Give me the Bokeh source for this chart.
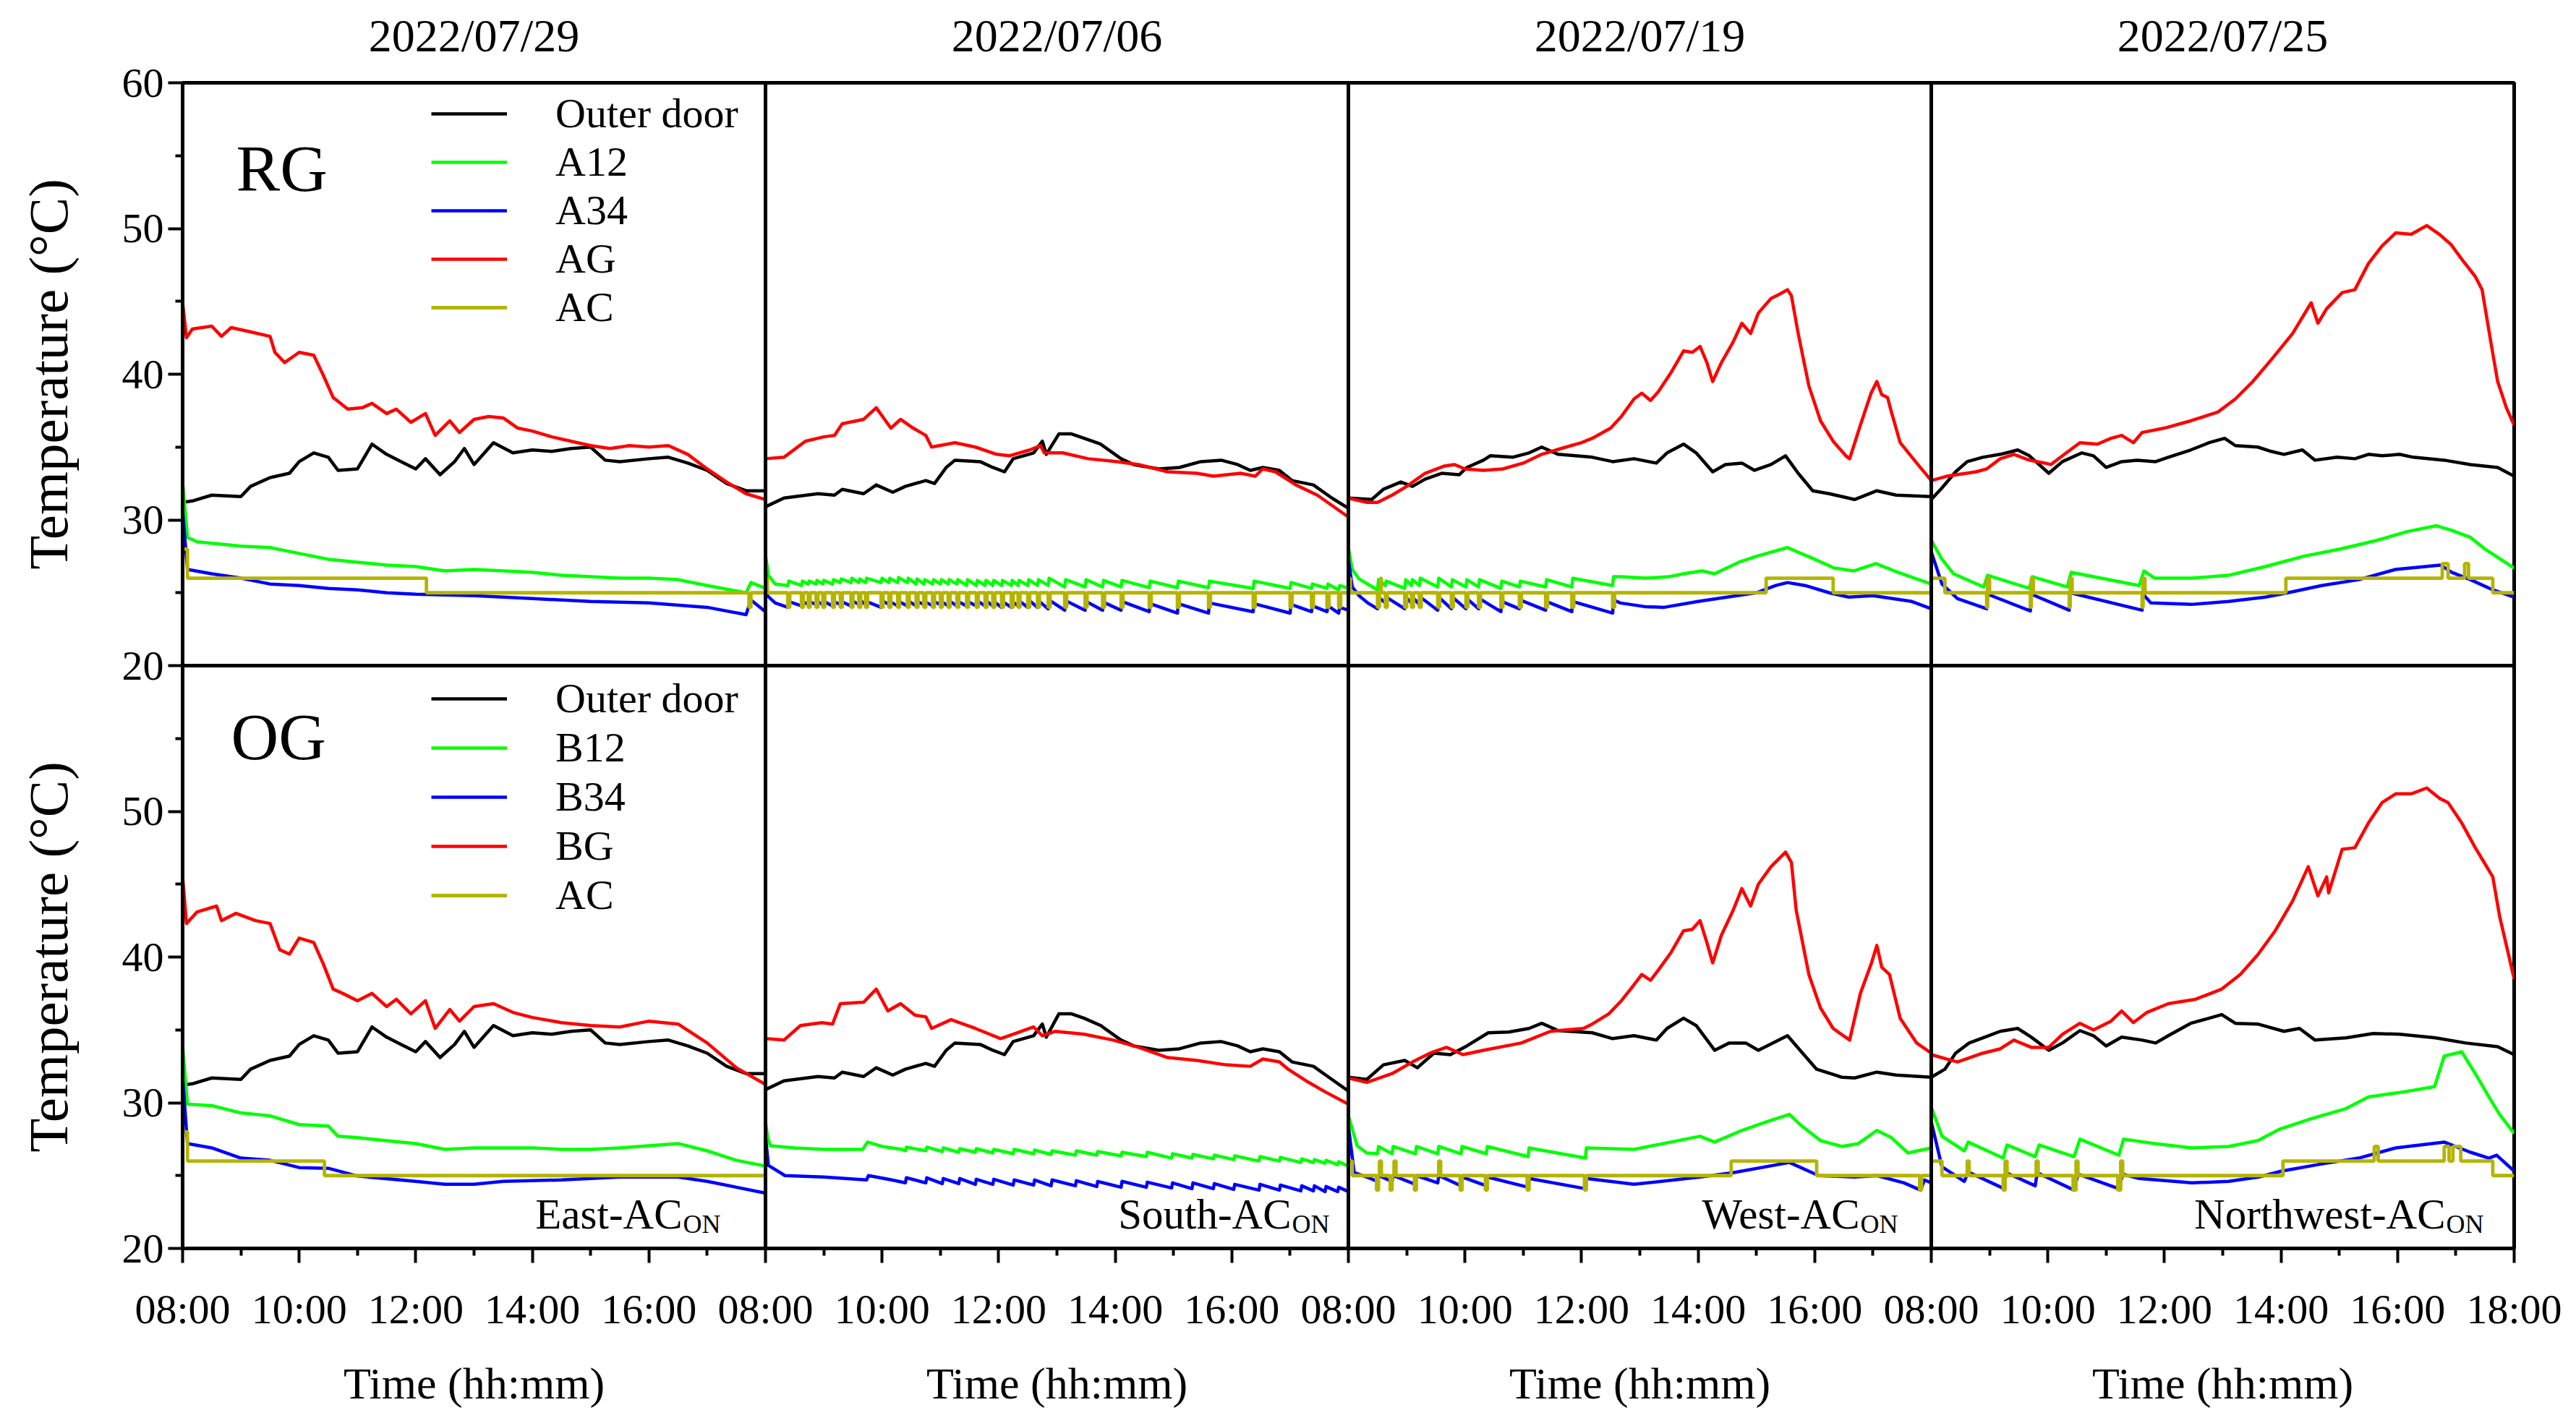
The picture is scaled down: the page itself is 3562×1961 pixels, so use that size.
import math
from bokeh.plotting import figure
from bokeh.models import Label, Legend, LegendItem, FixedTicker, Span, LinearAxis
from bokeh.embed import file_html
from bokeh.resources import INLINE

FONT = "Liberation Serif"

# ---------------- labels / categories ----------------
DATES = ["2022/07/29", "2022/07/06", "2022/07/19", "2022/07/25"]
ORIENTATION = ["East", "South", "West", "Northwest"]
ROW_NAMES = ["RG", "OG"]
LEGEND_RG = ["Outer door", "A12", "A34", "AG", "AC"]
LEGEND_OG = ["Outer door", "B12", "B34", "BG", "AC"]
HOUR_TICKS = [8, 10, 12, 14, 16, 18]
HOUR_LABELS = ["08:00", "10:00", "12:00", "14:00", "16:00", "18:00"]
TEMP_TICKS = [20, 30, 40, 50, 60]
X_TITLE = "Time (hh:mm)"
Y_TITLE = "Temperature (\u00b0C)"
AC_DIP_LEVEL = 24
AC_DIP_MINUTES = 2

# ---------------- RG row (top) ----------------
RG_0729_OUTER = [("08:00",31.2),("08:10",31.3),("08:30",31.7),("09:00",31.6),("09:10",32.3),("09:30",32.9),("09:50",33.2),("10:00",34.0),("10:15",34.6),("10:30",34.3),("10:40",33.4),("11:00",33.5),("11:15",35.2),("11:30",34.5),("11:45",34.0),("12:00",33.5),("12:10",34.2),("12:25",33.1),("12:40",34.0),("12:50",34.9),("13:00",33.8),("13:20",35.3),("13:40",34.6),("14:00",34.8),("14:20",34.7),("14:40",34.9),("15:00",35.0),("15:15",34.1),("15:30",34.0),("16:00",34.2),("16:20",34.3),("16:40",33.9),("17:00",33.4),("17:20",32.5),("17:40",32.0),("18:00",32.0)]
RG_0729_AG = [("08:00",44.9),("08:04",42.5),("08:10",43.1),("08:30",43.3),("08:40",42.6),("08:50",43.2),("09:10",42.9),("09:30",42.6),("09:35",41.5),("09:45",40.8),("10:00",41.5),("10:15",41.3),("10:25",39.9),("10:35",38.4),("10:50",37.6),("11:05",37.7),("11:15",38.0),("11:30",37.3),("11:40",37.6),("11:55",36.7),("12:10",37.3),("12:20",35.8),("12:35",36.8),("12:45",36.0),("13:00",36.9),("13:15",37.1),("13:30",37.0),("13:45",36.3),("14:00",36.1),("14:20",35.7),("14:40",35.4),("15:00",35.1),("15:20",34.9),("15:40",35.1),("16:00",35.0),("16:20",35.1),("16:40",34.5),("17:00",33.5),("17:20",32.6),("17:40",31.8),("18:00",31.4)]
RG_0729_A12 = [("08:00",32.6),("08:05",28.8),("08:15",28.5),("09:00",28.2),("09:30",28.1),("10:00",27.7),("10:30",27.3),("11:00",27.1),("11:30",26.9),("12:00",26.8),("12:30",26.5),("13:00",26.6),("13:30",26.5),("14:00",26.4),("14:30",26.2),("15:00",26.1),("15:30",26.0),("16:00",26.0),("16:30",25.9),("17:00",25.5),("17:40",25.0),("17:45",25.7),("18:00",25.3)]
RG_0729_A34 = [("08:00",30.6),("08:05",26.6),("08:30",26.3),("09:00",26.0),("09:30",25.6),("10:00",25.5),("10:30",25.3),("11:00",25.2),("11:30",25.0),("12:00",24.9),("13:00",24.8),("14:00",24.6),("15:00",24.4),("16:00",24.3),("17:00",24.0),("17:40",23.5),("17:45",24.5),("18:00",23.7)]
RG_0729_AC = [("08:00",28),("08:05",26),("12:11",25),("17:43",24),("17:45",25),("18:00",25)]
RG_0729_AC_DIPS = []

RG_0706_OUTER = [("08:00",30.9),("08:19",31.5),("08:54",31.8),("09:11",31.7),("09:19",32.1),("09:41",31.8),("09:54",32.4),("10:11",31.9),("10:24",32.3),("10:45",32.7),("10:54",32.5),("11:06",33.6),("11:15",34.1),("11:41",34.0),("11:54",33.6),("12:06",33.3),("12:15",34.2),("12:36",34.6),("12:45",35.4),("12:49",34.5),("13:02",35.9),("13:15",35.9),("13:28",35.6),("13:45",35.2),("14:06",34.2),("14:19",33.8),("14:45",33.5),("15:06",33.6),("15:28",34.0),("15:49",34.1),("16:06",33.8),("16:19",33.4),("16:32",33.6),("16:49",33.4),("17:02",32.7),("17:24",32.4),("17:43",31.5),("18:00",30.8)]
RG_0706_AG = [("08:00",34.2),("08:19",34.3),("08:41",35.4),("09:00",35.7),("09:11",35.8),("09:19",36.6),("09:41",36.9),("09:54",37.7),("10:09",36.3),("10:19",36.9),("10:32",36.3),("10:45",35.8),("10:51",35.0),("11:15",35.3),("11:36",35.0),("11:58",34.5),("12:11",34.4),("12:32",34.8),("12:43",35.1),("12:47",34.6),("13:06",34.6),("13:32",34.2),("14:02",34.0),("14:24",33.8),("14:54",33.3),("15:24",33.2),("15:41",33.0),("16:09",33.2),("16:24",33.0),("16:32",33.5),("16:45",33.3),("17:06",32.4),("17:28",31.7),("18:00",30.2)]
RG_0706_A12_START = [("08:00",27.6),("08:03",26.2),("08:10",25.6)]
RG_0706_A12_TEETH = [("08:23",25.5,25.8),("08:37",25.5,25.8),("08:44",25.6,25.8),("08:52",25.6,25.85),("08:59",25.6,25.85),("09:09",25.6,25.9),("09:17",25.7,25.95),("09:28",25.7,26.0),("09:36",25.7,25.95),("09:43",25.7,26.0),("09:59",25.7,26.0),("10:07",25.7,26.0),("10:16",25.7,26.05),("10:26",25.7,26.0),("10:35",25.6,25.95),("10:43",25.6,25.9),("10:52",25.6,25.9),("11:00",25.6,25.9),("11:08",25.6,25.9),("11:17",25.6,25.9),("11:27",25.5,25.9),("11:37",25.5,25.85),("11:46",25.5,25.85),("11:54",25.5,25.85),("12:03",25.5,25.85),("12:13",25.5,25.85),("12:20",25.5,25.85),("12:30",25.5,25.9),("12:40",25.5,25.9),("12:51",25.5,26.0),("13:08",25.4,25.9),("13:29",25.4,25.9),("13:47",25.4,25.85),("14:06",25.4,25.85),("14:35",25.35,25.8),("15:04",25.35,25.8),("15:36",25.35,25.8),("16:22",25.3,25.8),("17:00",25.3,25.7),("17:22",25.3,25.6),("17:38",25.3,25.6),("17:50",25.2,25.5)]
RG_0706_A12_END = [("18:00",25.3)]
RG_0706_A34_START = [("08:00",26.6),("08:02",24.8),("08:10",24.3)]
RG_0706_A34_TEETH = [("08:23",24.0,24.4),("08:37",24.1,24.4),("08:44",24.2,24.4),("08:52",24.2,24.4),("08:59",24.2,24.4),("09:09",24.1,24.4),("09:17",24.2,24.4),("09:28",24.1,24.45),("09:36",24.2,24.5),("09:43",24.2,24.4),("09:59",24.0,24.45),("10:07",24.2,24.4),("10:16",24.1,24.4),("10:26",24.1,24.45),("10:35",24.1,24.4),("10:43",24.2,24.4),("10:52",24.1,24.4),("11:00",24.2,24.4),("11:08",24.1,24.45),("11:17",24.1,24.4),("11:27",24.1,24.4),("11:37",24.1,24.45),("11:46",24.1,24.45),("11:54",24.1,24.4),("12:03",24.0,24.4),("12:13",24.0,24.4),("12:20",24.1,24.45),("12:30",24.0,24.5),("12:40",24.0,24.45),("12:51",23.9,24.5),("13:08",23.8,24.45),("13:29",23.8,24.4),("13:47",23.8,24.35),("14:06",23.8,24.4),("14:35",23.7,24.25),("15:04",23.6,24.25),("15:36",23.6,24.3),("16:22",23.7,24.25),("17:00",23.6,24.2),("17:22",23.7,24.1),("17:38",23.7,24.1),("17:50",23.6,24.0)]
RG_0706_A34_END = [("18:00",23.8)]
RG_0706_AC = [("08:00",26),("08:02",25),("18:00",25)]
RG_0706_AC_DIPS = ["08:23","08:37","08:44","08:52","08:59","09:09","09:17","09:28","09:36","09:43","09:59","10:07","10:16","10:26","10:35","10:43","10:52","11:00","11:08","11:17","11:27","11:37","11:46","11:54","12:03","12:13","12:20","12:30","12:40","12:51","13:08","13:29","13:47","14:06","14:35","15:04","15:36","16:22","17:00","17:22","17:38","17:50"]

RG_0719_OUTER = [("08:00",31.5),("08:24",31.4),("08:36",32.1),("08:54",32.6),("09:06",32.3),("09:19",32.8),("09:36",33.2),("09:54",33.1),("10:02",33.6),("10:19",34.1),("10:26",34.4),("10:49",34.3),("11:06",34.6),("11:19",35.0),("11:36",34.5),("11:54",34.4),("12:11",34.3),("12:32",34.0),("12:54",34.2),("13:17",33.9),("13:28",34.6),("13:45",35.2),("13:58",34.6),("14:15",33.3),("14:28",33.8),("14:45",33.9),("14:58",33.4),("15:15",33.8),("15:30",34.4),("15:43",33.2),("15:58",32.0),("16:15",31.8),("16:41",31.4),("17:04",32.0),("17:24",31.7),("18:00",31.6)]
RG_0719_AG = [("08:00",31.5),("08:19",31.2),("08:30",31.2),("08:45",31.7),("09:00",32.3),("09:19",33.2),("09:39",33.7),("09:49",33.8),("10:00",33.5),("10:19",33.4),("10:39",33.5),("11:00",33.9),("11:19",34.5),("11:39",34.9),("12:00",35.3),("12:11",35.6),("12:30",36.3),("12:41",37.1),("12:54",38.3),("13:02",38.7),("13:11",38.2),("13:19",38.8),("13:32",40.1),("13:45",41.6),("13:54",41.5),("14:02",41.9),("14:09",40.8),("14:15",39.5),("14:24",40.8),("14:36",42.2),("14:45",43.5),("14:54",42.8),("15:02",44.2),("15:15",45.2),("15:24",45.5),("15:32",45.8),("15:36",45.4),("15:43",42.8),("15:54",39.2),("16:06",36.8),("16:19",35.4),("16:32",34.4),("16:36",34.2),("16:47",36.5),("16:58",38.7),("17:04",39.5),("17:09",38.6),("17:15",38.4),("17:19",37.4),("17:28",35.3),("17:45",33.9),("18:00",32.7)]
RG_0719_A12_START = [("08:00",28.1),("08:04",26.6),("08:11",25.95)]
RG_0719_A12_TEETH = [("08:30",25.2,25.9),("08:38",25.5,25.8),("08:58",25.3,25.9),("09:05",25.5,25.9),("09:13",25.5,26.0),("09:32",25.4,26.0),("09:46",25.4,25.9),("10:01",25.4,25.9),("10:14",25.4,25.9),("10:37",25.3,25.8),("10:56",25.4,25.8),("11:23",25.4,25.9),("11:50",25.4,26.0),("12:32",25.5,26.1)]
RG_0719_A12_END = [("12:40",26.1),("13:06",26.0),("13:30",26.1),("13:45",26.3),("14:04",26.5),("14:17",26.3),("14:42",27.1),("15:00",27.5),("15:32",28.1),("16:00",27.3),("16:20",26.7),("16:40",26.5),("17:03",27.0),("17:22",26.5),("17:45",25.95),("18:00",25.6)]
RG_0719_A34_START = [("08:00",27.3),("08:04",25.4),("08:11",24.8),("08:20",24.3)]
RG_0719_A34_TEETH = [("08:30",23.9,24.7),("08:38",24.3,24.7),("08:58",23.9,24.7),("09:05",24.3,24.7),("09:13",24.2,24.7),("09:32",23.8,24.7),("09:46",23.9,24.7),("10:01",23.9,24.6),("10:14",23.9,24.6),("10:37",23.7,24.4),("10:56",23.9,24.5),("11:23",23.8,24.4),("11:50",23.7,24.4),("12:32",23.6,24.5)]
RG_0719_A34_END = [("12:40",24.3),("13:05",24.05),("13:25",24.0),("14:00",24.4),("14:20",24.6),("14:40",24.8),("15:00",25.0),("15:20",25.5),("15:32",25.7),("15:50",25.5),("16:15",25.0),("16:35",24.7),("17:00",24.8),("17:20",24.6),("17:40",24.4),("18:00",23.9)]
RG_0719_AC = [("08:00",26),("08:02",25),("08:33",26),("08:34",25),("15:10",26),("16:19",25),("18:00",25)]
RG_0719_AC_DIPS = ["08:30","08:38","08:58","09:05","09:13","09:32","09:46","10:01","10:14","10:37","10:56","11:23","11:50","12:32"]

RG_0725_OUTER = [("08:00",31.4),("08:11",32.2),("08:25",33.3),("08:37",34.0),("08:53",34.3),("09:11",34.5),("09:29",34.8),("09:41",34.4),("10:01",33.2),("10:15",34.0),("10:35",34.6),("10:47",34.4),("11:00",33.6),("11:16",34.0),("11:32",34.1),("11:51",34.0),("12:04",34.3),("12:27",34.8),("12:46",35.3),("13:02",35.6),("13:13",35.1),("13:36",35.0),("13:50",34.7),("14:03",34.5),("14:22",34.8),("14:35",34.1),("14:58",34.3),("15:16",34.2),("15:30",34.5),("15:44",34.4),("16:02",34.5),("16:16",34.3),("16:48",34.1),("17:15",33.8),("17:43",33.6),("18:00",33.0)]
RG_0725_AG = [("08:00",32.7),("08:16",33.0),("08:46",33.3),("08:57",33.5),("09:11",34.2),("09:25",34.5),("09:41",34.1),("09:57",33.9),("10:03",33.8),("10:19",34.6),("10:33",35.3),("10:51",35.2),("11:05",35.6),("11:16",35.8),("11:28",35.3),("11:37",36.0),("12:00",36.3),("12:27",36.8),("12:55",37.4),("13:13",38.3),("13:31",39.5),("13:50",41.0),("14:12",42.8),("14:31",44.9),("14:38",43.5),("14:47",44.5),("15:03",45.6),("15:16",45.8),("15:30",47.6),("15:44",48.8),("15:58",49.7),("16:14",49.6),("16:30",50.2),("16:43",49.6),("16:55",48.9),("17:06",47.9),("17:20",46.7),("17:27",45.8),("17:36",42.2),("17:43",39.5),("17:52",37.7),("18:00",36.5)]
RG_0725_A12 = [("08:00",28.6),("08:11",27.3),("08:23",26.3),("08:54",25.4),("08:58",26.2),("09:41",25.3),("09:44",26.1),("10:20",25.4),("10:24",26.4),("11:34",25.5),("11:39",26.5),("11:50",26.0),("12:28",26.0),("13:06",26.2),("13:44",26.8),("14:23",27.5),("15:01",28.0),("15:39",28.6),("16:10",29.2),("16:40",29.6),("16:55",29.3),("17:15",28.8),("17:30",28.0),("18:00",26.7)]
RG_0725_A34 = [("08:00",27.8),("08:11",25.6),("08:27",24.6),("08:57",23.9),("08:58",24.9),("09:42",23.75),("09:43",24.9),("10:22",23.8),("10:23",25.0),("11:37",23.8),("11:38",24.9),("11:46",24.3),("12:28",24.2),("13:06",24.4),("13:44",24.7),("14:07",25.0),("14:42",25.5),("15:20",25.9),("15:58",26.6),("16:44",26.9),("16:56",26.4),("17:15",25.9),("17:38",25.2),("18:00",24.7)]
RG_0725_AC = [("08:00",26),("08:14",25),("08:57",24),("08:58",26),("09:00",25),("09:42",24),("09:43",26),("09:45",25),("10:22",24),("10:23",26),("10:25",25),("11:37",24),("11:38",26),("11:40",25),("14:05",26),("16:46",27),("16:52",26),("17:09",27),("17:13",26),("17:38",25),("18:00",25)]
RG_0725_AC_DIPS = []

# ---------------- OG row (bottom) ----------------
OG_0729_OUTER = [("08:00",31.2),("08:10",31.3),("08:30",31.7),("09:00",31.6),("09:10",32.3),("09:30",32.9),("09:50",33.2),("10:00",34.0),("10:15",34.6),("10:30",34.3),("10:40",33.4),("11:00",33.5),("11:15",35.2),("11:30",34.5),("11:45",34.0),("12:00",33.5),("12:10",34.2),("12:25",33.1),("12:40",34.0),("12:50",34.9),("13:00",33.8),("13:20",35.3),("13:40",34.6),("14:00",34.8),("14:20",34.7),("14:40",34.9),("15:00",35.0),("15:15",34.1),("15:30",34.0),("16:00",34.2),("16:20",34.3),("16:40",33.9),("17:00",33.4),("17:20",32.5),("17:40",32.0),("18:00",32.0)]
OG_0729_BG = [("08:00",45.5),("08:04",42.3),("08:15",43.1),("08:35",43.5),("08:40",42.5),("08:55",43.0),("09:15",42.5),("09:30",42.3),("09:40",40.5),("09:50",40.2),("10:00",41.3),("10:15",41.0),("10:25",39.5),("10:35",37.8),("10:45",37.5),("11:00",37.0),("11:15",37.5),("11:30",36.6),("11:40",37.1),("11:55",36.1),("12:10",37.0),("12:20",35.1),("12:35",36.4),("12:45",35.6),("13:00",36.6),("13:20",36.8),("13:40",36.2),("14:00",35.85),("14:30",35.5),("15:00",35.3),("15:30",35.2),("16:00",35.6),("16:30",35.4),("17:00",34.1),("17:30",32.4),("18:00",31.25)]
OG_0729_B12 = [("08:00",33.9),("08:05",29.9),("08:30",29.8),("09:00",29.3),("09:30",29.1),("10:00",28.5),("10:30",28.4),("10:40",27.7),("11:00",27.6),("11:30",27.4),("12:00",27.2),("12:30",26.8),("13:00",26.9),("14:00",26.9),("14:30",26.8),("15:00",26.8),("15:30",26.9),("16:00",27.05),("16:30",27.2),("17:00",26.7),("17:30",26.05),("18:00",25.65)]
OG_0729_B34 = [("08:00",31.75),("08:05",27.2),("08:30",26.9),("09:00",26.2),("09:30",26.05),("10:00",25.55),("10:30",25.5),("11:00",24.97),("12:00",24.6),("12:30",24.4),("13:00",24.4),("13:30",24.6),("14:30",24.7),("15:30",24.9),("16:30",24.9),("17:00",24.6),("17:30",24.2),("18:00",23.8)]
OG_0729_AC = [("08:00",28),("08:05",26),("10:26",25),("18:00",25)]
OG_0729_AC_DIPS = []

OG_0706_OUTER = [("08:00",30.9),("08:19",31.5),("08:54",31.8),("09:11",31.7),("09:19",32.1),("09:41",31.8),("09:54",32.4),("10:11",31.9),("10:24",32.3),("10:45",32.7),("10:54",32.5),("11:06",33.6),("11:15",34.1),("11:41",34.0),("11:54",33.6),("12:06",33.3),("12:15",34.2),("12:36",34.6),("12:45",35.4),("12:49",34.5),("13:02",36.1),("13:15",36.1),("13:28",35.8),("13:45",35.3),("14:06",34.3),("14:19",33.9),("14:45",33.6),("15:06",33.7),("15:28",34.1),("15:49",34.2),("16:06",33.9),("16:19",33.5),("16:32",33.7),("16:49",33.5),("17:02",32.8),("17:24",32.5),("17:43",31.6),("18:00",30.8)]
OG_0706_BG = [("08:00",34.4),("08:19",34.3),("08:36",35.3),("08:58",35.5),("09:09",35.4),("09:17",36.8),("09:41",36.9),("09:54",37.8),("10:06",36.3),("10:19",36.8),("10:34",36.0),("10:45",35.9),("10:51",35.1),("11:11",35.7),("11:36",35.1),("12:02",34.4),("12:19",34.8),("12:36",35.2),("12:45",34.6),("12:58",34.9),("13:28",34.7),("13:58",34.3),("14:24",33.8),("14:54",33.1),("15:24",32.9),("15:54",32.6),("16:19",32.5),("16:32",33.0),("16:49",32.8),("16:58",32.3),("17:19",31.4),("17:36",30.75),("18:00",29.9)]
OG_0706_B12_START = [("08:00",28.7),("08:02",27.7),("08:05",27.05),("08:30",26.9),("09:00",26.8),("09:40",26.8),("09:45",27.3),("10:00",27.0),("10:20",26.8)]
OG_0706_B12_TEETH = [("10:24",26.7,26.95),("10:45",26.7,26.95),("11:02",26.65,26.9),("11:19",26.6,26.85),("11:36",26.6,26.85),("11:54",26.55,26.8),("12:15",26.5,26.8),("12:36",26.5,26.75),("12:54",26.45,26.7),("13:19",26.4,26.7),("13:41",26.4,26.65),("14:06",26.35,26.6),("14:32",26.3,26.6),("14:58",26.2,26.5),("15:19",26.2,26.45),("15:41",26.15,26.4),("16:02",26.1,26.35),("16:28",26.0,26.3),("16:49",26.0,26.25),("17:11",25.9,26.15),("17:24",25.9,26.1),("17:36",25.85,26.05),("17:49",25.75,25.95)]
OG_0706_B12_END = [("18:00",25.65)]
OG_0706_B34_START = [("08:00",27.7),("08:03",25.7),("08:20",25.0),("09:00",24.9),("09:44",24.7),("09:46",25.0),("10:10",24.7)]
OG_0706_B34_TEETH = [("10:24",24.5,24.85),("10:45",24.5,24.85),("11:02",24.45,24.8),("11:19",24.45,24.8),("11:36",24.4,24.75),("11:54",24.4,24.75),("12:15",24.35,24.7),("12:36",24.35,24.7),("12:54",24.3,24.7),("13:19",24.3,24.65),("13:41",24.25,24.6),("14:06",24.2,24.6),("14:32",24.2,24.55),("14:58",24.15,24.5),("15:19",24.1,24.5),("15:41",24.1,24.45),("16:02",24.05,24.4),("16:28",24.0,24.4),("16:49",24.0,24.35),("17:11",23.95,24.3),("17:24",23.95,24.3),("17:36",23.9,24.25),("17:49",23.9,24.2)]
OG_0706_B34_END = [("18:00",23.9)]
OG_0706_AC = []
OG_0706_AC_DIPS = []

OG_0719_OUTER = [("08:00",31.75),("08:19",31.6),("08:36",32.6),("08:58",32.9),("09:11",32.4),("09:28",33.4),("09:45",33.3),("10:02",33.9),("10:24",34.8),("10:45",34.85),("11:06",35.1),("11:19",35.45),("11:36",34.95),("12:11",34.8),("12:32",34.4),("12:54",34.6),("13:17",34.3),("13:28",35.1),("13:45",35.8),("13:58",35.3),("14:17",33.6),("14:32",34.1),("14:49",34.1),("15:02",33.6),("15:32",34.6),("15:45",33.6),("16:02",32.3),("16:28",31.75),("16:41",31.7),("17:04",32.1),("17:24",31.9),("18:00",31.75)]
OG_0719_BG = [("08:00",31.7),("08:19",31.4),("08:45",32.0),("09:06",32.8),("09:24",33.4),("09:41",33.8),("09:58",33.3),("10:19",33.6),("10:58",34.1),("11:28",34.9),("12:02",35.1),("12:11",35.4),("12:28",36.1),("12:41",37.0),("12:54",38.1),("13:02",38.8),("13:11",38.4),("13:19",39.1),("13:32",40.3),("13:45",41.8),("13:54",41.9),("14:02",42.5),("14:09",41.0),("14:15",39.6),("14:24",41.5),("14:36",43.2),("14:45",44.7),("14:54",43.5),("15:02",45.0),("15:15",46.2),("15:30",47.2),("15:36",46.5),("15:41",43.2),("15:54",38.8),("16:06",36.5),("16:19",35.1),("16:36",34.3),("16:47",37.5),("16:58",39.5),("17:04",40.8),("17:09",39.3),("17:17",38.8),("17:28",35.8),("17:45",34.1),("18:00",33.4)]
OG_0719_B12_START = [("08:00",29.1),("08:09",27.05),("08:19",26.55)]
OG_0719_B12_TEETH = [("08:30",26.5,27.0),("08:45",26.5,27.0),("09:09",26.5,27.0),("09:32",26.5,27.0),("09:56",26.5,27.0),("10:22",26.5,27.0),("11:05",26.3,26.9),("12:04",26.2,26.9)]
OG_0719_B12_END = [("12:54",26.8),("14:02",27.7),("14:17",27.3),("14:45",28.1),("15:11",28.7),("15:34",29.2),("15:45",28.5),("16:06",27.4),("16:28",27.0),("16:45",27.2),("17:04",28.1),("17:19",27.6),("17:36",26.55),("18:00",26.9)]
OG_0719_B34_START = [("08:00",28.4),("08:06",25.2),("08:19",24.9)]
OG_0719_B34_TEETH = [("08:30",24.6,25.0),("08:45",24.6,25.0),("09:09",24.4,25.0),("09:32",24.5,25.0),("09:56",24.3,24.9),("10:22",24.3,24.9),("11:05",24.2,24.8),("12:04",24.1,24.8)]
OG_0719_B34_END = [("12:54",24.4),("14:02",24.9),("14:36",25.2),("15:34",25.9),("16:04",25.0),("16:41",24.9),("17:04",25.0),("17:32",24.5),("17:49",24.0),("17:53",24.7),("18:00",24.5)]
OG_0719_AC = [("08:00",26),("08:04",25),("08:32",26),("08:34",25),("08:47",26),("08:49",25),("09:33",26),("09:35",25),("14:34",26),("16:02",25),("18:00",25)]
OG_0719_AC_DIPS = ["08:29","08:43","09:08","09:55","10:21","11:04","12:03","17:48"]

OG_0725_OUTER = [("08:00",31.75),("08:14",32.3),("08:25",33.4),("08:39",34.1),("08:55",34.5),("09:11",34.9),("09:29",35.1),("09:43",34.5),("10:01",33.6),("10:15",34.1),("10:33",34.95),("10:47",34.6),("11:00",33.9),("11:16",34.5),("11:37",34.3),("11:51",34.1),("12:04",34.6),("12:27",35.45),("12:46",35.8),("12:59",36.05),("13:13",35.45),("13:36",35.4),("14:03",34.9),("14:19",35.1),("14:35",34.3),("15:07",34.45),("15:35",34.75),("16:02",34.7),("16:39",34.45),("17:10",34.1),("17:43",33.85),("18:00",33.3)]
OG_0725_BG = [("08:00",33.3),("08:16",33.0),("08:27",32.8),("08:53",33.4),("09:11",33.7),("09:25",34.3),("09:43",33.8),("10:01",33.8),("10:15",34.7),("10:33",35.45),("10:47",35.0),("11:05",35.6),("11:16",36.3),("11:28",35.5),("11:42",36.2),("12:04",36.8),("12:32",37.1),("12:59",37.8),("13:18",38.8),("13:36",40.15),("13:54",41.8),("14:12",43.85),("14:28",46.2),("14:38",44.2),("14:47",45.5),("14:49",44.4),("15:03",47.4),("15:16",47.5),("15:30",49.2),("15:44",50.6),("15:58",51.2),("16:14",51.2),("16:30",51.6),("16:43",50.9),("16:52",50.6),("17:06",49.2),("17:20",47.5),("17:29",46.5),("17:38",45.5),("17:45",42.8),("17:52",40.8),("18:00",38.5)]
OG_0725_B12 = [("08:00",29.7),("08:11",27.7),("08:34",26.7),("08:38",27.3),("09:14",26.2),("09:18",27.1),("09:47",26.3),("09:51",27.1),("10:27",26.3),("10:33",27.5),("11:13",26.4),("11:18",27.5),("11:50",27.2),("12:28",26.9),("13:06",27.0),("13:36",27.4),("13:59",28.2),("14:31",28.9),("15:07",29.6),("15:30",30.4),("16:07",30.75),("16:38",31.1),("16:48",33.2),("17:06",33.5),("17:20",32.0),("17:34",30.4),("17:45",29.2),("18:00",27.9)]
OG_0725_B34 = [("08:00",28.7),("08:11",25.6),("08:34",24.6),("08:38",25.25),("09:15",24.1),("09:17",25.2),("09:47",24.3),("09:49",25.2),("10:27",24.0),("10:31",25.1),("11:13",24.1),("11:17",25.1),("11:34",24.8),("12:28",24.5),("13:06",24.6),("13:37",24.9),("14:00",25.3),("14:42",25.8),("15:20",26.2),("15:58",26.9),("16:48",27.3),("17:15",26.6),("17:34",26.2),("17:42",26.4),("18:00",25.3)]
OG_0725_AC = [("08:00",26),("08:11",25),("08:37",26),("08:39",25),("09:14",24),("09:16",26),("09:18",25),("09:48",26),("09:50",25),("10:26",24),("10:29",26),("10:31",25),("11:12",24),("11:15",26),("11:17",25),("14:02",26),("15:36",27),("15:40",26),("16:48",27),("16:53",26),("16:57",27),("17:05",26),("17:38",25),("18:00",25)]
OG_0725_AC_DIPS = []


# ---------------- helpers ----------------
def hrs(s):
    h, m = s.split(":")
    return int(h) + int(m) / 60.0


def with_teeth(start, teeth, end):
    pts = [(hrs(t), v) for t, v in start]
    for t, lo, hi in teeth:
        pts.append((hrs(t), lo))
        pts.append((hrs(t) + 1 / 60.0, hi))
    pts += [(hrs(t), v) for t, v in end]
    return pts


def plain(series):
    return [(hrs(t), v) for t, v in series]


def ac_steps(steps, dips):
    pts = [(hrs(t), v) for t, v in steps]
    for d in dips:
        pts.append((hrs(d), AC_DIP_LEVEL))
        pts.append((hrs(d) + AC_DIP_MINUTES / 60.0, 25))
    pts.sort(key=lambda q: q[0])
    return pts


PANELS = {
    0: [
        dict(outer=plain(RG_0729_OUTER), s12=plain(RG_0729_A12), s34=plain(RG_0729_A34), g=plain(RG_0729_AG), ac=ac_steps(RG_0729_AC, RG_0729_AC_DIPS)),
        dict(outer=plain(RG_0706_OUTER), s12=with_teeth(RG_0706_A12_START, RG_0706_A12_TEETH, RG_0706_A12_END), s34=with_teeth(RG_0706_A34_START, RG_0706_A34_TEETH, RG_0706_A34_END), g=plain(RG_0706_AG), ac=ac_steps(RG_0706_AC, RG_0706_AC_DIPS)),
        dict(outer=plain(RG_0719_OUTER), s12=with_teeth(RG_0719_A12_START, RG_0719_A12_TEETH, RG_0719_A12_END), s34=with_teeth(RG_0719_A34_START, RG_0719_A34_TEETH, RG_0719_A34_END), g=plain(RG_0719_AG), ac=ac_steps(RG_0719_AC, RG_0719_AC_DIPS)),
        dict(outer=plain(RG_0725_OUTER), s12=plain(RG_0725_A12), s34=plain(RG_0725_A34), g=plain(RG_0725_AG), ac=ac_steps(RG_0725_AC, RG_0725_AC_DIPS)),
    ],
    1: [
        dict(outer=plain(OG_0729_OUTER), s12=plain(OG_0729_B12), s34=plain(OG_0729_B34), g=plain(OG_0729_BG), ac=ac_steps(OG_0729_AC, OG_0729_AC_DIPS)),
        dict(outer=plain(OG_0706_OUTER), s12=with_teeth(OG_0706_B12_START, OG_0706_B12_TEETH, OG_0706_B12_END), s34=with_teeth(OG_0706_B34_START, OG_0706_B34_TEETH, OG_0706_B34_END), g=plain(OG_0706_BG), ac=ac_steps(OG_0706_AC, OG_0706_AC_DIPS)),
        dict(outer=plain(OG_0719_OUTER), s12=with_teeth(OG_0719_B12_START, OG_0719_B12_TEETH, OG_0719_B12_END), s34=with_teeth(OG_0719_B34_START, OG_0719_B34_TEETH, OG_0719_B34_END), g=plain(OG_0719_BG), ac=ac_steps(OG_0719_AC, OG_0719_AC_DIPS)),
        dict(outer=plain(OG_0725_OUTER), s12=plain(OG_0725_B12), s34=plain(OG_0725_B34), g=plain(OG_0725_BG), ac=ac_steps(OG_0725_AC, OG_0725_AC_DIPS)),
    ],
}

COLORS = dict(outer="#000000", s12="#00ff00", s34="#0000ff", g="#ff0000", ac="#b4b400")
WIDTHS = dict(outer=4.5, s12=4.5, s34=4.5, g=4.5, ac=4.8)

# ---------------- figure geometry ----------------
FRAME_W, FRAME_H = 3224, 1612
X_SPAN = 40.0
PX_X = FRAME_W / X_SPAN
PX_Y = FRAME_H / 80.0

p = figure(frame_width=FRAME_W, frame_height=FRAME_H,
           x_range=(0, X_SPAN), y_range=(20, 100),
           output_backend="svg", toolbar_location=None,
           min_border_left=252, min_border_right=80,
           min_border_top=114, min_border_bottom=228)
p.xgrid.visible = False
p.ygrid.visible = False
p.outline_line_color = "black"
p.outline_line_width = 5
p.background_fill_color = "white"
p.border_fill_color = "white"


def to_x(k, h):
    return 10 * k + (h - HOUR_TICKS[0])


def to_y(row, v):
    return v + (40 if row == 0 else 0)


xt, xlab = [], {}
for k in range(4):
    for h, lab in zip(HOUR_TICKS, HOUR_LABELS):
        x = to_x(k, h)
        if x not in xt:
            xt.append(x)
        if h < 18 or k == 3:
            xlab[x] = lab
minor_x = [to_x(k, h) for k in range(4) for h in (9, 11, 13, 15, 17)]
p.xaxis.ticker = FixedTicker(ticks=xt, minor_ticks=minor_x)
p.xaxis.major_label_overrides = {float(k): v for k, v in xlab.items()}

yt, ylab = [], {}
for row in (1, 0):
    for t in TEMP_TICKS:
        y = to_y(row, t)
        if y not in yt:
            yt.append(y)
        ylab[y] = str(t)
minor_y = [to_y(r, t) for r in (0, 1) for t in (25, 35, 45, 55)]
p.yaxis.ticker = FixedTicker(ticks=sorted(yt), minor_ticks=minor_y)
p.yaxis.major_label_overrides = {float(k): v for k, v in ylab.items()}

for ax in (p.xaxis, p.yaxis):
    ax.axis_line_width = 5
    ax.major_tick_out = 20
    ax.major_tick_in = 0
    ax.minor_tick_out = 10
    ax.minor_tick_in = 0
    ax.major_tick_line_width = 4
    ax.minor_tick_line_width = 4
    ax.major_label_text_font = FONT
    ax.major_label_text_font_size = "58px"
    ax.major_label_text_color = "black"
p.xaxis.major_label_standoff = 31
p.yaxis.major_label_standoff = 6


def title_axis(place, ticks, labels, standoff, size, orientation="horizontal"):
    ax = LinearAxis(ticker=FixedTicker(ticks=ticks, minor_ticks=[]),
                    major_label_overrides={float(t): l for t, l in zip(ticks, labels)})
    ax.axis_line_color = None
    ax.major_tick_line_color = None
    ax.minor_tick_line_color = None
    ax.major_tick_out = 0
    ax.major_tick_in = 0
    ax.major_label_standoff = standoff
    ax.major_label_text_font = FONT
    ax.major_label_text_font_size = size
    ax.major_label_text_color = "black"
    ax.major_label_orientation = orientation
    p.add_layout(ax, place)
    return ax


centers = [to_x(k, 13) for k in range(4)]
title_axis("above", centers, DATES, 30, "64px")
title_axis("below", centers, [X_TITLE] * 4, 33, "62px")
title_axis("left", [to_y(0, 40), to_y(1, 40)], [Y_TITLE, Y_TITLE], 56, "77px", "vertical")

# panel dividers
for k in (1, 2, 3):
    p.add_layout(Span(location=to_x(k, 8), dimension="height", line_color="black", line_width=5))
p.add_layout(Span(location=60, dimension="width", line_color="black", line_width=5))

# series
renderers = {0: [], 1: []}
for row in (0, 1):
    for k, panel in enumerate(PANELS[row]):
        rs = []
        for key in ("outer", "s12", "s34", "g", "ac"):
            pts = panel[key]
            if not pts:
                rs.append(None)
                continue
            xs = [to_x(k, h) for h, _ in pts]
            ys = [to_y(row, v) for _, v in pts]
            if key == "ac":
                r = p.step(xs, ys, mode="after", line_color=COLORS[key], line_width=WIDTHS[key])
            else:
                r = p.line(xs, ys, line_color=COLORS[key], line_width=WIDTHS[key], line_join="round")
            rs.append(r)
        if k == 0:
            renderers[row] = rs

# legends
for row, names, loc, sp in ((0, LEGEND_RG, (344, 1268), 0), (1, LEGEND_OG, (344, 455), 1)):
    items = [LegendItem(label=n, renderers=[r]) for n, r in zip(names, renderers[row])]
    leg = Legend(items=items, location=loc, orientation="vertical",
                 glyph_width=105, glyph_height=60, label_height=60, label_standoff=67,
                 spacing=sp, padding=0, margin=0,
                 border_line_alpha=0, background_fill_alpha=0,
                 label_text_font=FONT, label_text_font_size="58px", label_text_color="black")
    p.add_layout(leg)


def mid_y(baseline_px, size_px):
    # data y of the em-box middle for a text whose baseline sits at baseline_px (page pixels)
    return 100 - (baseline_px - 0.3375 * size_px - 114) / PX_Y


# row names (inside the frame)
p.add_layout(Label(x=(326 - 252) / PX_X, y=mid_y(263.5, 91), text=ROW_NAMES[0],
                   text_font=FONT, text_font_size="91px", text_baseline="middle", text_color="black"))
p.add_layout(Label(x=(319 - 252) / PX_X, y=mid_y(1050, 91), text=ROW_NAMES[1],
                   text_font=FONT, text_font_size="91px", text_baseline="middle", text_color="black"))

# orientation notes with subscript
note_right = [996, 1838, 2624, 3434]
for k in range(4):
    xr = (note_right[k] - 252) / PX_X
    p.add_layout(Label(x=xr, y=mid_y(1705, 36), text="ON", text_align="right",
                       text_baseline="middle", text_font=FONT, text_font_size="36px", text_color="black"))
    p.add_layout(Label(x=xr - 53 / PX_X, y=mid_y(1698, 59), text=ORIENTATION[k] + "-AC",
                       text_align="right", text_baseline="middle", text_font=FONT,
                       text_font_size="59px", text_color="black"))

open("out.html", "w").write(file_html(p, INLINE))
